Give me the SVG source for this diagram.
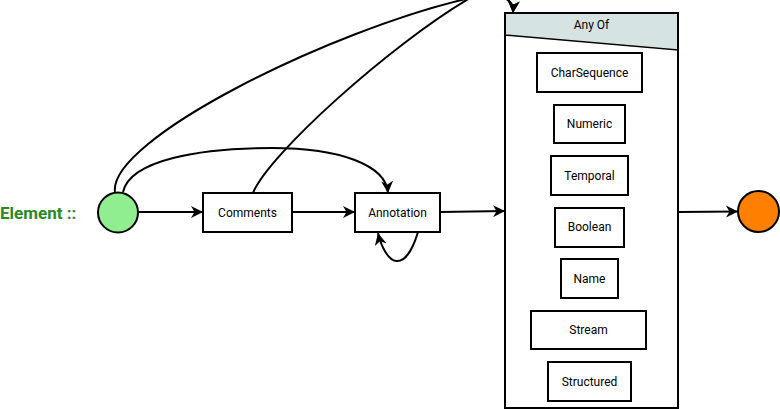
<svg xmlns="http://www.w3.org/2000/svg" width="780" height="409" viewBox="0 0 780 409">
  <style>
    .box { fill: #ffffff; stroke: #000000; stroke-width: 2; }
    .lbl { font-family: Roboto, "Liberation Sans", sans-serif; font-size: 12px; fill: #000000; text-anchor: middle; dominant-baseline: central; }
    .edge { fill: none; stroke: #000000; stroke-width: 2; marker-end: url(#arrow); }
  </style>
  <defs>
    <marker id="arrow" markerUnits="userSpaceOnUse" markerWidth="14" markerHeight="12" refX="12" refY="6" orient="auto">
      <path d="M0,0 L12,6 L0,12 L3.5,6 Z" fill="#000000"/>
    </marker>
  </defs>
  <rect width="780" height="409" fill="#ffffff"/>

  <!-- start label -->
  <text x="0" y="213" font-family="Roboto, 'Liberation Sans', sans-serif" font-size="17" font-weight="bold" fill="#2a8a1e" dominant-baseline="central">Element ::</text>

  <g id="connectors">
    <path class="edge" d="M138,212 L203,212"/>
    <path class="edge" d="M292,212 L355,212"/>
    <path class="edge" d="M440,212 L505,211"/>
    <path class="edge" d="M678,212 L738,211.5"/>
    <path class="edge" d="M123,192 C130,160 200,148 272,148 C340,148 386,165 388,193"/>
    <path class="edge" d="M418,232 C412,252 404,262 396,261 C388,260 381,246 378,233"/>
    <path class="edge" d="M115,192 C108,140 330,30 470,-2 C500,-9 514,-2 513,13"/>
    <path class="edge" d="M253,193 C268,155 390,45 470,-2 C500,-9 514,-2 513,13"/>
  </g>

  <g id="start">
    <circle cx="118" cy="212.5" r="20" fill="#90ee90" stroke="#000000" stroke-width="2"/>
  </g>
  <g id="end">
    <circle cx="758.5" cy="211.5" r="20.5" fill="#ff8000" stroke="#000000" stroke-width="2"/>
  </g>

  <g id="comments">
    <rect class="box" x="203" y="193" width="89" height="39"/>
    <text class="lbl" x="247.5" y="212.5">Comments</text>
  </g>
  <g id="annotation">
    <rect class="box" x="355" y="193" width="85" height="39"/>
    <text class="lbl" x="397.5" y="212.5">Annotation</text>
  </g>

  <g id="any-of">
    <rect x="505" y="13" width="173" height="395" fill="#ffffff" stroke="#000000" stroke-width="2"/>
    <path d="M505,13 L678,13 L678,50 L505,35 Z" fill="#d6e3e3" stroke="#000000" stroke-width="1.5"/>
    <rect x="505" y="13" width="173" height="395" fill="none" stroke="#000000" stroke-width="2"/>
    <text class="lbl" x="591.5" y="24.5">Any Of</text>
  </g>

  <g id="charsequence">
    <rect class="box" x="537" y="53" width="105" height="39"/>
    <text class="lbl" x="589.5" y="72.5">CharSequence</text>
  </g>
  <g id="numeric">
    <rect class="box" x="554" y="105" width="71" height="38"/>
    <text class="lbl" x="589.5" y="124">Numeric</text>
  </g>
  <g id="temporal">
    <rect class="box" x="551" y="156" width="77" height="39"/>
    <text class="lbl" x="589.5" y="175.5">Temporal</text>
  </g>
  <g id="boolean">
    <rect class="box" x="555" y="208" width="69" height="39"/>
    <text class="lbl" x="589.5" y="227">Boolean</text>
  </g>
  <g id="name">
    <rect class="box" x="561" y="259" width="57" height="39"/>
    <text class="lbl" x="589.5" y="278.5">Name</text>
  </g>
  <g id="stream">
    <rect class="box" x="531" y="311" width="115" height="38"/>
    <text class="lbl" x="588.5" y="330">Stream</text>
  </g>
  <g id="structured">
    <rect class="box" x="548" y="362" width="83" height="39"/>
    <text class="lbl" x="589.5" y="381.5">Structured</text>
  </g>
</svg>
